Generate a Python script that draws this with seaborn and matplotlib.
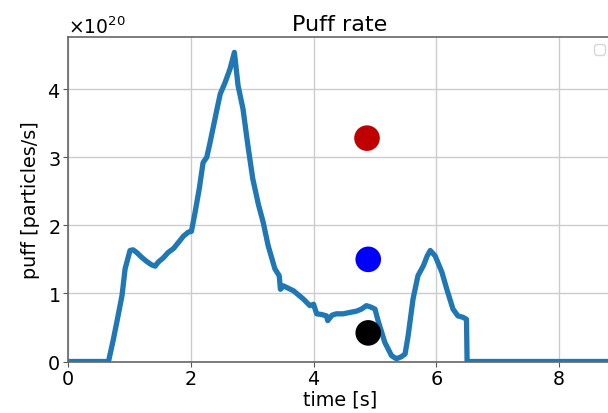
import matplotlib
matplotlib.use("Agg")
import matplotlib.pyplot as plt
import numpy as np
import seaborn as sns

# puff trace (time in s, rate in 1e20 particles/s)
time_s = [0, 0.66, 0.74, 0.80, 0.88, 0.93, 1.01, 1.06, 1.12, 1.20, 1.28, 1.36, 1.42, 1.47,
          1.55, 1.63, 1.72, 1.80, 1.88, 1.96, 2.01, 2.07, 2.14, 2.20, 2.26, 2.31, 2.37, 2.43,
          2.48, 2.56, 2.64, 2.71, 2.77, 2.85, 2.93, 3.01, 3.10, 3.18, 3.26, 3.37, 3.44, 3.46,
          3.51, 3.60, 3.67, 3.75, 3.83, 3.94, 4.00, 4.05, 4.13, 4.21, 4.23, 4.30, 4.37, 4.48,
          4.59, 4.70, 4.78, 4.86, 4.93, 5.00, 5.05, 5.16, 5.27, 5.35, 5.43, 5.49, 5.54, 5.62,
          5.70, 5.79, 5.85, 5.90, 5.98, 6.09, 6.17, 6.27, 6.35, 6.43, 6.49, 6.50, 8.9]
puff = [0, 0, 0.33, 0.60, 0.97, 1.36, 1.63, 1.64, 1.60, 1.53, 1.47, 1.42, 1.40, 1.46,
        1.52, 1.60, 1.66, 1.75, 1.84, 1.90, 1.91, 2.19, 2.55, 2.92, 3.00, 3.20, 3.46, 3.72,
        3.93, 4.10, 4.30, 4.54, 4.05, 3.71, 3.17, 2.68, 2.31, 2.04, 1.70, 1.36, 1.26, 1.06,
        1.11, 1.07, 1.04, 0.98, 0.92, 0.82, 0.84, 0.70, 0.69, 0.67, 0.60, 0.68, 0.70, 0.70,
        0.72, 0.74, 0.77, 0.82, 0.80, 0.77, 0.60, 0.28, 0.085, 0.04, 0.07, 0.11, 0.38, 0.92,
        1.26, 1.41, 1.55, 1.63, 1.55, 1.31, 1.06, 0.77, 0.67, 0.65, 0.62, 0, 0]

# the three markers
pt_time = [4.87, 4.89, 4.89]
pt_puff = [3.28, 1.50, 0.42]
pt_color = ['#c00000', 'blue', 'black']

sns.set_style('whitegrid')
plt.rcParams['font.family'] = ['DejaVu Sans']
plt.rcParams['text.color'] = 'black'
plt.rcParams['axes.labelcolor'] = 'black'
plt.rcParams['xtick.color'] = 'black'
plt.rcParams['ytick.color'] = 'black'

fig = plt.figure(figsize=(6.08, 4.14), dpi=100)
ax = fig.add_axes([68/608, 51.5/414, 544/608, 324.5/414])

sns.lineplot(x=time_s, y=np.array(puff)*1e20, ax=ax, color='#1f77b4', lw=3.8,
             sort=False, estimator=None)
for tt, pp, cc in zip(pt_time, pt_puff, pt_color):
    ax.scatter(tt, pp*1e20, s=340, color=cc, zorder=5, edgecolors='none')

ax.set_xlim(0, 8.86)
ax.set_ylim(0, 4.765e20)
ax.set_xticks([0, 2, 4, 6, 8])
ax.set_yticks([0, 1e20, 2e20, 3e20, 4e20])
ax.ticklabel_format(axis='y', style='sci', scilimits=(0, 0), useMathText=True)
ax.yaxis.get_offset_text().set_fontsize(13.5)

ax.set_title('Puff rate', fontsize=16, pad=5)
ax.set_xlabel('time [s]', fontsize=13.8, labelpad=1)
ax.set_ylabel('puff [particles/s]', fontsize=13.8, labelpad=5)
ax.tick_params(labelsize=13.8, length=3.5, color='#555555', bottom=True, left=True, pad=2)
for s in ax.spines.values():
    s.set_color('#666666')
    s.set_linewidth(1.2)
ax.grid(True, color='#cccccc', lw=1)

ax.legend(handles=[], loc='upper right')

fig.savefig('out.png', dpi=100)
